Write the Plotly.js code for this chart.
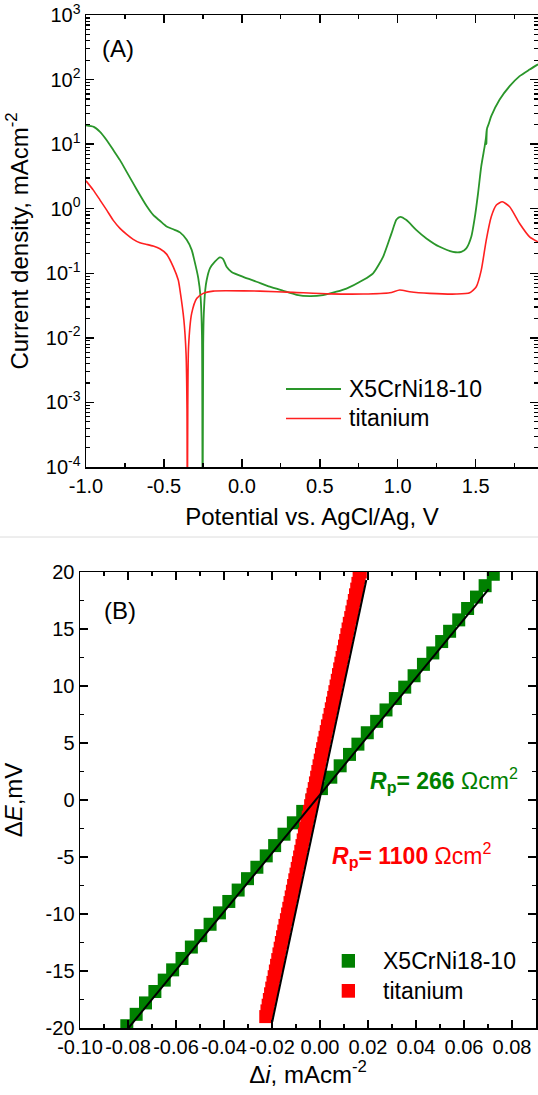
<!DOCTYPE html>
<html><head><meta charset="utf-8">
<script src="https://cdn.plot.ly/plotly-3.0.1.min.js"></script>
<style>html,body{margin:0;padding:0;background:#fff}#chart{width:538px;height:1095px}</style>
</head><body><div id="chart"></div>
<script>
// ---------- Panel A: polarization curves ----------
const potentialSteel = [-1.00,-0.95,-0.91,-0.867,-0.825,-0.782,-0.739,-0.697,-0.654,-0.611,-0.569,-0.526,-0.483,-0.44,-0.397,-0.354,-0.322,-0.305,-0.28,-0.265,-0.256,-0.252,-0.248,-0.244,-0.235,-0.226,-0.205,-0.173,-0.141,-0.12,-0.098,-0.066,0.008,0.094,0.179,0.265,0.351,0.436,0.521,0.607,0.671,0.778,0.842,0.906,0.96,0.992,1.017,1.056,1.12,1.184,1.269,1.354,1.408,1.44,1.472,1.494,1.515,1.536,1.558,1.566,1.571,1.569,1.573,1.585,1.6,1.654,1.718,1.782,1.846,1.9];
const currentSteel = [19.5,18.5,15.5,11.5,8.1,5.65,3.72,2.47,1.63,1.1,0.8,0.65,0.53,0.48,0.43,0.33,0.23,0.16,0.085,0.043,0.011,0.00001,0.008,0.024,0.055,0.078,0.119,0.151,0.176,0.166,0.126,0.105,0.088,0.074,0.062,0.0536,0.0465,0.0444,0.046,0.0518,0.058,0.0785,0.0998,0.18,0.415,0.68,0.75,0.667,0.467,0.347,0.257,0.215,0.215,0.243,0.367,0.72,1.7,4.56,9.3,12.5,17.0,10.0,17.5,21,27.1,49.2,79,113,143,172];
const potentialTi = [-1.0,-0.953,-0.91,-0.867,-0.825,-0.782,-0.739,-0.697,-0.654,-0.611,-0.569,-0.526,-0.483,-0.44,-0.408,-0.397,-0.372,-0.358,-0.352,-0.35,-0.347,-0.342,-0.322,-0.29,-0.248,-0.184,-0.098,0.115,0.329,0.564,0.778,0.949,1.013,1.077,1.205,1.376,1.462,1.504,1.536,1.568,1.6,1.633,1.671,1.718,1.782,1.846,1.9];
const currentTi = [2.7,1.94,1.36,0.95,0.66,0.495,0.4,0.335,0.296,0.28,0.264,0.24,0.198,0.126,0.0785,0.055,0.0189,0.0057,0.0008,0.00001,0.0009,0.0073,0.0239,0.0408,0.0489,0.053,0.0536,0.053,0.0506,0.048,0.0477,0.0499,0.055,0.0518,0.0489,0.0477,0.0499,0.0618,0.112,0.327,0.75,1.14,1.28,1.07,0.59,0.367,0.307];

// ---------- Panel B: linear polarization ----------
const diSteel = [-0.0805,-0.0766,-0.0727,-0.0688,-0.0649,-0.0614,-0.0575,-0.0536,-0.0497,-0.0458,-0.0419,-0.0380,-0.0341,-0.0302,-0.0263,-0.0224,-0.0189,-0.0150,-0.0111,-0.0072,-0.0033,0.0006,0.0045,0.0084,0.0123,0.0158,0.0197,0.0236,0.0275,0.0314,0.0353,0.0392,0.0431,0.0470,0.0507,0.0540,0.0578,0.0615,0.0652,0.0688,0.0722];
const dESteel = [-19.8,-18.8,-17.8,-16.8,-15.8,-14.9,-13.9,-12.9,-11.9,-10.9,-9.9,-8.9,-7.9,-6.9,-5.9,-4.9,-4.0,-3.0,-2.0,-1.0,0.0,1.0,2.0,3.0,4.0,4.9,5.9,6.9,7.9,8.9,9.9,10.9,11.9,12.9,13.9,14.8,15.8,16.8,17.8,18.8,19.8];
const diTi = [-0.0226,-0.0221,-0.0216,-0.0211,-0.0206,-0.0201,-0.0196,-0.0191,-0.0186,-0.0181,-0.0176,-0.0171,-0.0166,-0.0161,-0.0156,-0.0151,-0.0146,-0.0140,-0.0135,-0.0130,-0.0125,-0.0120,-0.0115,-0.0110,-0.0105,-0.0100,-0.0095,-0.0090,-0.0085,-0.0080,-0.0075,-0.0070,-0.0065,-0.0060,-0.0055,-0.0049,-0.0044,-0.0039,-0.0034,-0.0029,-0.0024,-0.0019,-0.0014,-0.0009,-0.0004,0.0001,0.0006,0.0011,0.0016,0.0021,0.0026,0.0031,0.0037,0.0042,0.0047,0.0052,0.0057,0.0062,0.0067,0.0072,0.0077,0.0082,0.0087,0.0092,0.0097,0.0102,0.0107,0.0112,0.0117,0.0122,0.0128,0.0133,0.0138,0.0143,0.0148,0.0153,0.0158,0.0163,0.0168];
const dETi = [-19.0,-18.5,-18.0,-17.5,-17.0,-16.5,-16.0,-15.5,-15.0,-14.5,-14.0,-13.5,-13.0,-12.5,-12.0,-11.5,-11.0,-10.5,-10.0,-9.5,-9.0,-8.5,-8.0,-7.5,-7.0,-6.5,-6.0,-5.5,-5.0,-4.5,-4.0,-3.5,-3.0,-2.5,-2.0,-1.5,-1.0,-0.5,0.0,0.5,1.0,1.5,2.0,2.5,3.0,3.5,4.0,4.5,5.0,5.5,6.0,6.5,7.0,7.5,8.0,8.5,9.0,9.5,10.0,10.5,11.0,11.5,12.0,12.5,13.0,13.5,14.0,14.5,15.0,15.5,16.0,16.5,17.0,17.5,18.0,18.5,19.0,19.5,20.0];
const fitSteelI = [-0.0798, 0.0703];
const fitSteelE = [-20, 18.5];
const fitTiI = [-0.0199, 0.0193];
const fitTiE = [-19.45, 19.3];

const seriesNames = ['X5CrNi18-10', 'titanium'];
const rpLabels = ['266', '1100'];

// ---------- Tick labels ----------
const xTickValsA = [-1, -0.5, 0, 0.5, 1, 1.5];
const xTickTextA = ['-1.0', '-0.5', '0.0', '0.5', '1.0', '1.5'];
const yTickValsA = [1e-4, 1e-3, 1e-2, 1e-1, 1, 10, 100, 1000];
const yTickTextA = ['10<sup>-4</sup>','10<sup>-3</sup>','10<sup>-2</sup>','10<sup>-1</sup>','10<sup>0</sup>','10<sup>1</sup>','10<sup>2</sup>','10<sup>3</sup>'];
const xTickValsB = [-0.1, -0.08, -0.06, -0.04, -0.02, 0, 0.02, 0.04, 0.06, 0.08];
const xTickTextB = ['-0.10','-0.08','-0.06','-0.04','-0.02','0.00','0.02','0.04','0.06','0.08'];
const yTickValsB = [-20, -15, -10, -5, 0, 5, 10, 15, 20];
const yTickTextB = ['-20','-15','-10','-5','0','5','10','15','20'];

// minor tick positions
const minorXA = []; for (let v = -1; v <= 1.9001; v += 0.25) minorXA.push(+v.toFixed(2));
const minorYA = []; for (let e = -4; e < 3; e++) for (let m = 1; m <= 9; m++) minorYA.push(m * Math.pow(10, e));
const minorXB = []; for (let k = -10; k <= 9; k++) minorXB.push(+(k * 0.01).toFixed(2));
const minorYB = []; for (let v = -20; v <= 20; v += 2.5) minorYB.push(v);

const FONT = 'Liberation Sans, Arial, Helvetica, sans-serif';
const GREEN_LINE = '#2a962a', RED_LINE = '#ff2020';
const GREEN_MK = '#008000', RED_MK = '#ff0000';

function axis(extra) {
  return Object.assign({
    showline: true, linecolor: '#000', linewidth: 1.5, mirror: 'allticks',
    ticks: 'inside', ticklen: 8, tickwidth: 1.5, tickcolor: '#000',
    showgrid: false, zeroline: false, tickmode: 'array',
    tickfont: {family: FONT, size: 20, color: '#000'}
  }, extra);
}
function minor(vals) {
  return {ticks: 'inside', ticklen: 4, tickwidth: 1.2, tickcolor: '#000', tickmode: 'array', tickvals: vals, showgrid: false};
}

const traces = [
  {x: potentialSteel, y: currentSteel, type: 'scatter', mode: 'lines', name: seriesNames[0],
   line: {color: GREEN_LINE, width: 1.8, shape: 'spline', smoothing: 0.6}, xaxis: 'x', yaxis: 'y', showlegend: false},
  {x: potentialTi, y: currentTi, type: 'scatter', mode: 'lines', name: seriesNames[1],
   line: {color: RED_LINE, width: 1.6, shape: 'spline', smoothing: 0.6}, xaxis: 'x', yaxis: 'y', showlegend: false},
  {x: diSteel, y: dESteel, type: 'scatter', mode: 'markers', name: seriesNames[0],
   marker: {symbol: 'square', size: 13, color: GREEN_MK}, xaxis: 'x2', yaxis: 'y2', showlegend: false},
  {x: diTi, y: dETi, type: 'scatter', mode: 'markers', name: seriesNames[1],
   marker: {symbol: 'square', size: 13, color: RED_MK}, xaxis: 'x2', yaxis: 'y2', showlegend: false},
  {x: fitSteelI, y: fitSteelE, type: 'scatter', mode: 'lines', line: {color: '#000', width: 2},
   xaxis: 'x2', yaxis: 'y2', showlegend: false},
  {x: fitTiI, y: fitTiE, type: 'scatter', mode: 'lines', line: {color: '#000', width: 2},
   xaxis: 'x2', yaxis: 'y2', showlegend: false}
];

const W = 538, H = 1095;
const px = v => v / W, py = v => 1 - v / H;

const layout = {
  width: W, height: H, margin: {l: 0, r: 0, t: 0, b: 0},
  paper_bgcolor: '#fff', plot_bgcolor: '#fff', showlegend: false,
  font: {family: FONT, color: '#000', size: 20},
  xaxis: axis({domain: [px(86), 1], anchor: 'y', range: [-1, 1.9],
    tickvals: xTickValsA, ticktext: xTickTextA, minor: minor(minorXA),
    title: {text: 'Potential vs. AgCl/Ag, V', font: {size: 24, family: FONT}, standoff: 12}}),
  yaxis: axis({domain: [py(467), py(15)], anchor: 'x', type: 'log', range: [-4, 3],
    tickvals: yTickValsA, ticktext: yTickTextA, minor: minor(minorYA),
    title: {text: 'Current density, mAcm<sup>-2</sup>', font: {size: 24, family: FONT}}}),
  xaxis2: axis({domain: [px(80), px(536)], anchor: 'y2', range: [-0.1, 0.09],
    tickvals: xTickValsB, ticktext: xTickTextB, minor: minor(minorXB),
    title: {text: 'Δ<i>i</i>, mAcm<sup>-2</sup>', font: {size: 24, family: FONT}, standoff: 9}}),
  yaxis2: axis({domain: [py(1028), py(572)], anchor: 'x2', range: [-20, 20],
    tickvals: yTickValsB, ticktext: yTickTextB, minor: minor(minorYB),
    title: {text: 'Δ<i>E</i>,mV', font: {size: 24, family: FONT}}}),
  shapes: [
    {type: 'line', xref: 'paper', yref: 'paper', x0: 0, x1: 1, y0: py(537), y1: py(537), line: {color: '#dcdcdc', width: 1}},
    {type: 'line', xref: 'paper', yref: 'paper', x0: px(286), x1: px(341), y0: py(389), y1: py(389), line: {color: GREEN_LINE, width: 1.8}},
    {type: 'line', xref: 'paper', yref: 'paper', x0: px(286), x1: px(341), y0: py(418.5), y1: py(418.5), line: {color: RED_LINE, width: 1.6}},
    {type: 'rect', xref: 'paper', yref: 'paper', x0: px(341.7), x1: px(355), y0: py(967.7), y1: py(954), line: {width: 0}, fillcolor: GREEN_MK},
    {type: 'rect', xref: 'paper', yref: 'paper', x0: px(341.7), x1: px(355), y0: py(997.7), y1: py(984), line: {width: 0}, fillcolor: RED_MK}
  ],
  annotations: [
    {xref: 'paper', yref: 'paper', x: px(100), y: py(48), xanchor: 'left', yanchor: 'middle', showarrow: false, text: '(A)', font: {size: 24}},
    {xref: 'paper', yref: 'paper', x: px(102), y: py(610), xanchor: 'left', yanchor: 'middle', showarrow: false, text: '(B)', font: {size: 24}},
    {xref: 'paper', yref: 'paper', x: px(347), y: py(389), xanchor: 'left', yanchor: 'middle', showarrow: false, text: seriesNames[0], font: {size: 23}},
    {xref: 'paper', yref: 'paper', x: px(347), y: py(418.5), xanchor: 'left', yanchor: 'middle', showarrow: false, text: seriesNames[1], font: {size: 23}},
    {xref: 'paper', yref: 'paper', x: px(381), y: py(961), xanchor: 'left', yanchor: 'middle', showarrow: false, text: seriesNames[0], font: {size: 23}},
    {xref: 'paper', yref: 'paper', x: px(381), y: py(991), xanchor: 'left', yanchor: 'middle', showarrow: false, text: seriesNames[1], font: {size: 23}},
    {xref: 'paper', yref: 'paper', x: px(368), y: py(780), xanchor: 'left', yanchor: 'middle', showarrow: false,
     text: '<b><i>R</i><sub>p</sub>= ' + rpLabels[0] + '</b> Ωcm<sup>2</sup>', font: {size: 23, color: GREEN_MK}},
    {xref: 'paper', yref: 'paper', x: px(330), y: py(855), xanchor: 'left', yanchor: 'middle', showarrow: false,
     text: '<b><i>R</i><sub>p</sub>= ' + rpLabels[1] + '</b> Ωcm<sup>2</sup>', font: {size: 23, color: RED_MK}}
  ]
};

Plotly.newPlot('chart', traces, layout, {staticPlot: true, displayModeBar: false});
</script></body></html>
